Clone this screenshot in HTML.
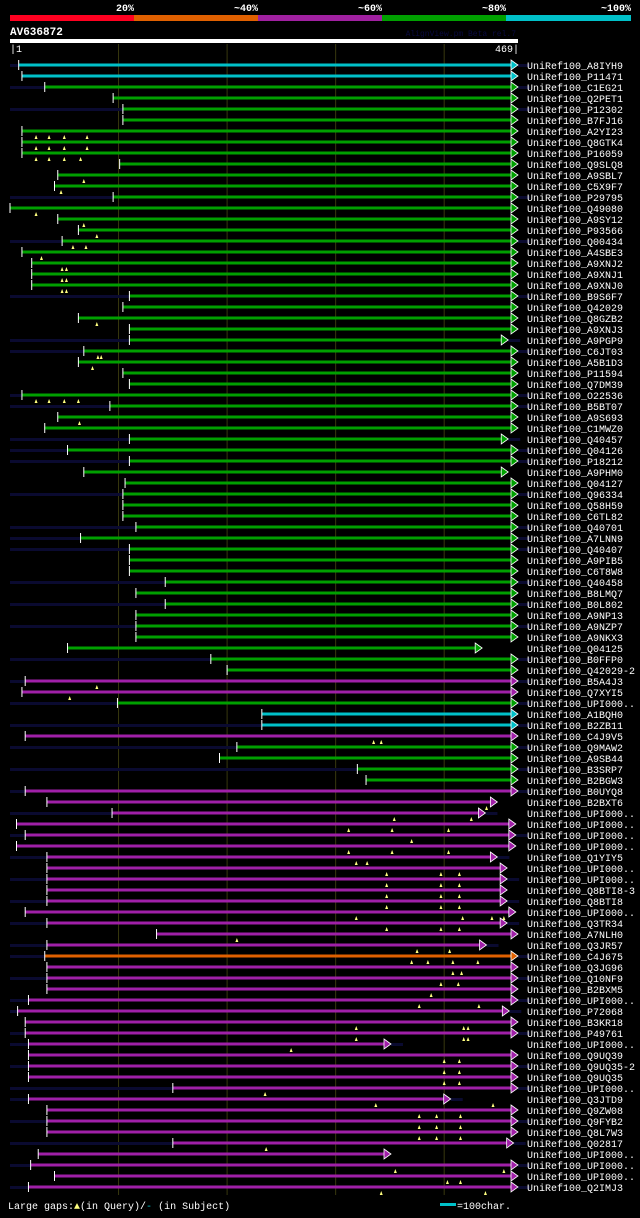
<!DOCTYPE html>
<html><head><meta charset="utf-8">
<style>
html,body{margin:0;padding:0;background:#000;}
body{width:640px;height:1213px;overflow:hidden;font-family:"Liberation Mono","DejaVu Sans Mono",monospace;}
svg text{font-family:"Liberation Mono","DejaVu Sans Mono",monospace;}
</style></head>
<body>
<svg id="chart" width="640" height="1213" xmlns="http://www.w3.org/2000/svg">
  <rect x="0" y="0" width="640" height="1213" fill="#000"/>
  <g>
    <rect x="10" y="15" width="124" height="6" fill="#ff0020"/>
    <rect x="134" y="15" width="124" height="6" fill="#e06000"/>
    <rect x="258" y="15" width="124" height="6" fill="#a020a0"/>
    <rect x="382" y="15" width="124" height="6" fill="#00a000"/>
    <rect x="506" y="15" width="125" height="6" fill="#00c0c8"/>
    <text x="134" y="11" fill="#fff" font-size="10" font-weight="bold" text-anchor="end">20%</text>
    <text x="258" y="11" fill="#fff" font-size="10" font-weight="bold" text-anchor="end">~40%</text>
    <text x="382" y="11" fill="#fff" font-size="10" font-weight="bold" text-anchor="end">~60%</text>
    <text x="506" y="11" fill="#fff" font-size="10" font-weight="bold" text-anchor="end">~80%</text>
    <text x="631" y="11" fill="#fff" font-size="10" font-weight="bold" text-anchor="end">~100%</text>
  </g>
  <text x="10" y="35" fill="#fff" font-size="11" font-weight="bold">AV636872</text>
  <text x="516" y="36" fill="#0a0a40" font-size="8" text-anchor="end">AlignView.pm Beta rel.7</text>
  <rect x="10" y="39" width="508" height="4" fill="#fff"/>
  <text x="10" y="52" fill="#fff" font-size="10">|1</text>
  <text x="519" y="52" fill="#fff" font-size="10" text-anchor="end">469|</text>
  <g id="grid"></g>
  <g id="rows"></g>
  <g>
    <text x="8" y="1209" fill="#fff" font-size="10">Large gaps:<tspan fill="#ffff80">▲</tspan>(in Query)/<tspan fill="#00c0c8">-</tspan> (in Subject)</text>
    <rect x="440" y="1203" width="16" height="3" fill="#00c0c8"/>
    <text x="457" y="1209" fill="#fff" font-size="10">=100char.</text>
  </g>
</svg>
<script>
const queryLength = 469;
const gridTicks = [101, 201, 301, 401];
const hitNames = ["A8IYH9","P11471","C1EG21","Q2PET1","P12302","B7FJ16","A2YI23","Q8GTK4","P16059","Q9SLQ8","A9SBL7","C5X9F7","P29795","Q49080","A9SY12","P93566","Q00434","A4SBE3","A9XNJ2","A9XNJ1","A9XNJ0","B9S6F7","Q42029","Q8GZB2","A9XNJ3","A9PGP9","C6JT03","A5B1D3","P11594","Q7DM39","O22536","B5BT07","A9S693","C1MWZ0","Q40457","Q04126","P18212","A9PHM0","Q04127","Q96334","Q58H59","C6TL82","Q40701","A7LNN9","Q40407","A9PIB5","C6T8W8","Q40458","B8LMQ7","B0L802","A9NP13","A9NZP7","A9NKX3","Q04125","B0FFP0","Q42029-2","B5A4J3","Q7XYI5","UPI000..","A1BQH0","B2ZB11","C4J9V5","Q9MAW2","A9SB44","B3SRP7","B2BGW3","B0UYQ8","B2BXT6","UPI000..","UPI000..","UPI000..","UPI000..","Q1YIY5","UPI000..","UPI000..","Q8BTI8-3","Q8BTI8","UPI000..","Q3TR34","A7NLH0","Q3JR57","C4J675","Q3JG96","Q10NF9","B2BXM5","UPI000..","P72068","B3KR18","P49761","UPI000..","Q9UQ39","Q9UQ35-2","Q9UQ35","UPI000..","Q3JTD9","Q9ZW08","Q9FYB2","Q8L7W3","Q02817","UPI000..","UPI000..","UPI000..","Q2IMJ3"];
const hitStarts = [9,12,33,96,105,105,12,12,12,102,45,42,96,1,45,64,49,12,21,21,21,111,105,64,111,111,69,64,105,111,12,93,45,33,111,54,111,69,107,105,105,105,117,66,111,111,111,144,117,144,117,117,117,54,186,201,15,12,100,233,233,15,210,194,321,329,15,35,95,7,15,7,35,35,35,35,35,15,35,136,35,33,35,35,35,18,8,15,15,18,18,18,18,151,18,35,35,35,151,27,20,42,18];
const hitEnds = [469,469,469,469,469,469,469,469,469,469,469,469,469,469,469,469,469,469,469,469,469,469,469,469,469,460,469,469,469,469,469,469,469,469,460,469,469,460,469,469,469,469,469,469,469,469,469,469,469,469,469,469,469,436,469,469,469,469,469,469,469,469,469,469,469,469,469,450,439,467,467,467,450,459,459,459,459,467,459,469,440,469,469,469,469,469,461,469,469,352,469,469,469,469,407,469,469,469,465,352,469,469,469];
const hitIdentity = ["c","c","g","g","g","g","g","g","g","g","g","g","g","g","g","g","g","g","g","g","g","g","g","g","g","g","g","g","g","g","g","g","g","g","g","g","g","g","g","g","g","g","g","g","g","g","g","g","g","g","g","g","g","g","g","g","m","m","g","c","c","m","g","g","g","g","m","m","m","m","m","m","m","m","m","m","m","m","m","m","m","o","m","m","m","m","m","m","m","m","m","m","m","m","m","m","m","m","m","m","m","m","m"];
const hitOverhang = [1,0,1,0,1,0,0,0,0,0,0,0,1,0,0,0,1,0,0,0,0,1,0,0,0,1,1,0,0,0,1,1,0,0,1,1,1,0,0,1,0,0,1,1,1,0,0,1,0,1,0,1,0,0,1,0,1,0,1,0,1,0,1,0,1,0,1,0,1,0,1,0,1,0,1,0,1,0,1,0,1,1,0,1,0,1,1,0,1,1,0,1,0,1,1,0,1,0,1,0,1,0,1];
const hitQueryGaps = [[],[],[],[],[],[],[25,37,51,72],[25,37,51,72],[25,37,51,66],[],[69],[48],[],[25],[69],[81],[59,71],[30],[49,53],[49,53],[49,53],[],[],[81],[],[],[82,85],[77],[],[],[25,37,51,64],[],[65],[],[],[],[],[],[],[],[],[],[],[],[],[],[],[],[],[],[],[],[],[],[],[],[81],[56],[],[],[],[336,343],[],[],[],[],[],[440],[355,426],[313,353,405],[371],[313,353,405],[320,330],[348,398,415],[348,398,415],[348,398,415],[348,398,415],[320,418,445,456],[348,398,415],[210],[376,406],[371,386,409,432],[409,417],[398,414],[389],[378,433],[],[320,419,423],[320,419,423],[260],[401,415],[401,415],[401,415],[236],[338,446],[378,394,416],[378,394,416],[378,394,416],[237],[],[356,456],[404,416],[343,439]];

const svg = document.getElementById('chart');
const NS = 'http://www.w3.org/2000/svg';
const X0 = 10, X1 = 518, ROW0 = 65, ROWH = 11;
function xScale(p){ return X0 + (p - 1) * (X1 - X0) / (queryLength - 1); }
function yScale(i){ return ROW0 + i * ROWH; }
const colors = {c:'#00c0c8', g:'#00a000', m:'#a020a8', o:'#e06000', r:'#ff0020'};
function mk(tag, attrs){ const e = document.createElementNS(NS, tag); for (const k in attrs) e.setAttribute(k, attrs[k]); return e; }

const grid = document.getElementById('grid');
gridTicks.forEach(function(t){
  const l = mk('line', {x1: xScale(t), x2: xScale(t), y1: 44, y2: 1195, stroke: '#38380e', 'stroke-width': 1});
  
  
  grid.appendChild(l);
});

const rows = document.getElementById('rows');
hitNames.forEach(function(name, i){
  const y = yScale(i);
  const g = mk('g', {});
  
  
  const xs = xScale(hitStarts[i]);
  const xe = xScale(hitEnds[i]);
  const col = colors[hitIdentity[i]];
  if (hitOverhang[i]) {
    const ov = mk('rect', {x: X0, y: y - 1, width: Math.max(0, xs - X0), height: 3, fill: '#0a0a30'});
    
    
    g.appendChild(ov);
    const ov2 = mk('rect', {x: xe, y: y - 1, width: 12, height: 3, fill: '#0a0a30'});
    
    
    g.appendChild(ov2);
  }
  const bar = mk('rect', {x: xs, y: y - 1.5, width: Math.max(0, xe - 7 - xs), height: 3, fill: col});
  
  
  g.appendChild(bar);
  const tick = mk('line', {x1: xs, x2: xs, y1: y - 5, y2: y + 5, stroke: '#fff', 'stroke-width': 1});
  
  
  g.appendChild(tick);
  const ar = mk('polygon', {points: (xe-7)+','+(y-5)+' '+(xe)+','+y+' '+(xe-7)+','+(y+5), fill: col, stroke: '#fff', 'stroke-width': 0.8});
  
  
  g.appendChild(ar);
  hitQueryGaps[i].forEach(function(p){
    const gx = xScale(p);
    const tri = mk('polygon', {points: (gx-1.5)+','+(y+8)+' '+gx+','+(y+4)+' '+(gx+1.5)+','+(y+8), fill: '#ffff80'});
    
    
    g.appendChild(tri);
  });
  const t = mk('text', {x: 527, y: y + 4, fill: '#fff', 'font-size': 10});
  t.textContent = 'UniRef100_' + name;
  
  
  g.appendChild(t);
  rows.appendChild(g);
});
</script>
</body></html>
